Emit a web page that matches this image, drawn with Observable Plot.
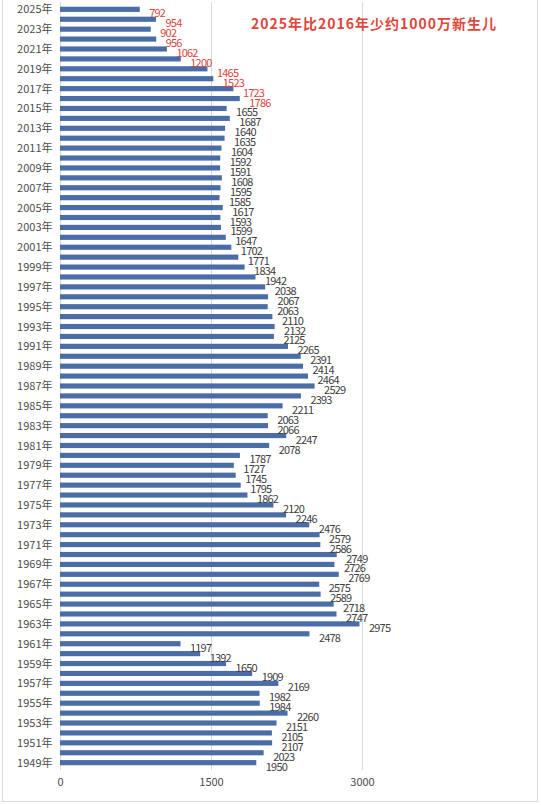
<!DOCTYPE html>
<html><head><meta charset="utf-8">
<script src="https://cdn.jsdelivr.net/npm/d3@7"></script>
<script src="https://cdn.jsdelivr.net/npm/@observablehq/plot@0.6"></script>
<style>
body{margin:0;background:#fff;}
#wrap{position:relative;width:541px;height:805px;box-sizing:border-box;}
#border{position:absolute;left:2px;top:0;width:536px;height:802px;border:1px solid #d9d9d9;border-top:none;box-sizing:border-box;pointer-events:none;}
#title{position:absolute;left:251px;top:13px;font-family:"Noto Sans CJK SC",sans-serif;font-weight:bold;font-size:14px;color:#e0463c;letter-spacing:1px;white-space:nowrap;}
svg{font-family:"Noto Sans CJK SC",sans-serif;}
svg g[aria-label="text"] text{letter-spacing:-0.8px;}
</style></head>
<body><div id="wrap"><div id="chart"></div><div id="title"></div><div id="border"></div></div>
<script>
const title = "2025年比2016年少约1000万新生儿";
const years = [2025,2024,2023,2022,2021,2020,2019,2018,2017,2016,2015,2014,2013,2012,2011,2010,2009,2008,2007,2006,2005,2004,2003,2002,2001,2000,1999,1998,1997,1996,1995,1994,1993,1992,1991,1990,1989,1988,1987,1986,1985,1984,1983,1982,1981,1980,1979,1978,1977,1976,1975,1974,1973,1972,1971,1970,1969,1968,1967,1966,1965,1964,1963,1962,1961,1960,1959,1958,1957,1956,1955,1954,1953,1952,1951,1950,1949];
const births = [792,954,902,956,1062,1200,1465,1523,1723,1786,1655,1687,1640,1635,1604,1592,1591,1608,1595,1585,1617,1593,1599,1647,1702,1771,1834,1942,2038,2067,2063,2110,2132,2125,2265,2391,2414,2464,2529,2393,2211,2063,2066,2247,2078,1787,1727,1745,1795,1862,2120,2246,2476,2579,2586,2749,2726,2769,2575,2589,2718,2747,2975,2478,1197,1392,1650,1909,2169,1982,1984,2260,2151,2105,2107,2023,1950];
const xTicks = [0,1500,3000];
const highlightFrom = 2016;

const data = years.map((y,i)=>({year:String(y), value:births[i], hi: y>=highlightFrom}));
const yTickLabels = years.filter(y=>y%2===1).map(String);

document.getElementById("title").textContent = title;

const chart = Plot.plot({
  width:541, height:805,
  marginLeft:60, marginRight:179, marginTop:2, marginBottom:35,
  style:{fontFamily:'"Noto Sans CJK SC",sans-serif', fontSize:"11px", color:"#4d4d4d", background:"transparent"},
  x:{domain:[0,3000], ticks:xTicks, tickSize:0, tickPadding:8, label:null, tickFormat:d=>String(d)},
  y:{domain:years.map(String), padding:0.48, ticks:yTickLabels, tickSize:0, tickPadding:8, label:null, tickFormat:d=>d+"年"},
  marks:[
    Plot.ruleX(xTicks,{stroke:"#d9d9d9", strokeWidth:1}),
    Plot.barX(data,{x:"value", y:"year", fill:"#4a6da7"}),
    Plot.text(data,{x:"value", y:"year", text:d=>String(d.value), dx:9, dy:4, textAnchor:"start",
      fill:d=>d.hi?"#d9453d":"#404040", fontSize:11})
  ]
});
document.getElementById("chart").appendChild(chart);
</script></body></html>
